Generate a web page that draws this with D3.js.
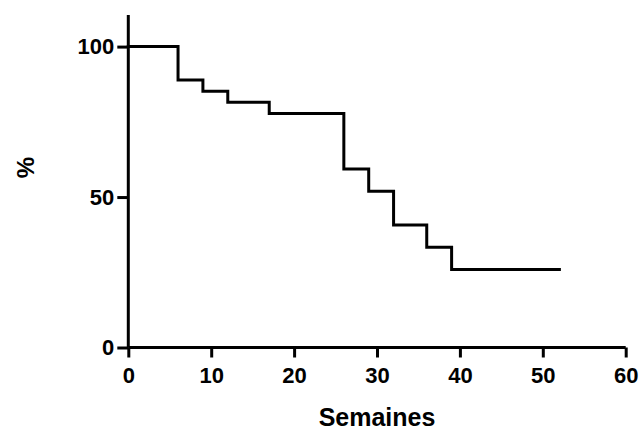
<!DOCTYPE html>
<html>
<head>
<meta charset="utf-8">
<script src="https://cdn.jsdelivr.net/npm/d3@7"></script>
<style>
  body { margin: 0; background: #fff; }
  svg text { font-family: "Liberation Sans", Arial, sans-serif; font-weight: bold; }
</style>
</head>
<body>
<div id="chart"></div>
<script>
// Kaplan-Meier style steps: time (weeks) and survival (%)
const weeks = [0, 6, 9, 12, 17, 26, 29, 32, 36, 39, 52];
const survival = [100, 88.9, 85.2, 81.5, 77.8, 59.3, 51.9, 40.7, 33.3, 25.9, 25.9];
const xTicks = [0, 10, 20, 30, 40, 50, 60];
const yTicks = [0, 50, 100];

const width = 641, height = 430;
const margin = { top: 15, right: 15.3, bottom: 82.5, left: 128.3 };

const svg = d3.select("#chart").append("svg")
    .attr("width", width)
    .attr("height", height);

const x = d3.scaleLinear()
    .domain([0, 60])
    .range([margin.left, width - margin.right]);

const y = d3.scaleLinear()
    .domain([0, 110.5])
    .range([height - margin.bottom, margin.top]);

const lw = 3;

// X axis
const xAxis = svg.append("g")
    .attr("transform", `translate(0,${y(0)})`)
    .call(d3.axisBottom(x).tickValues(xTicks).tickSize(10).tickPadding(10));
xAxis.select(".domain").attr("stroke-width", lw).attr("d", `M${x(0)},0H${x(60)}`);
xAxis.selectAll(".tick line").attr("stroke-width", lw);
xAxis.selectAll(".tick text").style("font-size", "22px").attr("fill", "#000");

// Y axis
const yAxis = svg.append("g")
    .attr("transform", `translate(${x(0)},0)`)
    .call(d3.axisLeft(y).tickValues(yTicks).tickSize(11).tickPadding(3));
yAxis.select(".domain").attr("stroke-width", lw).attr("d", `M0,${y(110.5)}V${y(0)}`);
yAxis.selectAll(".tick line").attr("stroke-width", lw);
yAxis.selectAll(".tick text").style("font-size", "22px").attr("fill", "#000");

// Step curve
const line = d3.line()
    .x((d, i) => x(weeks[i]))
    .y(d => y(d))
    .curve(d3.curveStepAfter);

svg.append("path")
    .datum(survival)
    .attr("fill", "none")
    .attr("stroke", "#000")
    .attr("stroke-width", lw)
    .attr("stroke-linecap", "square")
    .attr("d", line);

// Axis titles
svg.append("text")
    .attr("x", (x(0) + x(60)) / 2)
    .attr("y", 426)
    .attr("text-anchor", "middle")
    .style("font-size", "25px")
    .text("Semaines");

svg.append("text")
    .attr("transform", `translate(34,167.5) rotate(-90)`)
    .attr("text-anchor", "middle")
    .style("font-size", "24px")
    .text("%");
</script>
</body>
</html>
